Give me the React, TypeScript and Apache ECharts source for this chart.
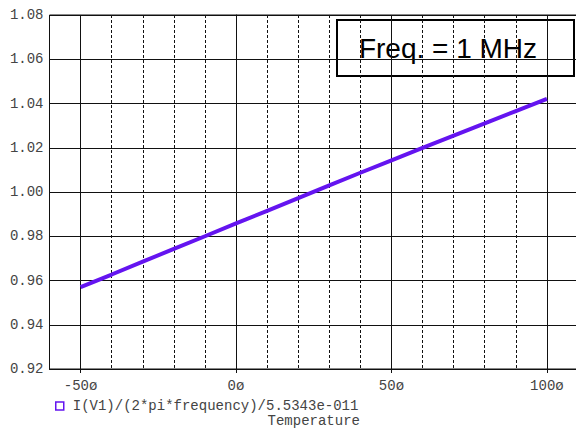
import React, { useEffect, useRef } from "react";
import * as echarts from "echarts";

const temperatures = [-50, -40, -30, -20, -10, 0, 10, 20, 30, 40, 50, 60, 70, 80, 90, 100];
const ratioValues = [0.957, 0.9627, 0.9685, 0.9743, 0.98, 0.9858, 0.9915, 0.9972, 1.003, 1.0087, 1.0143, 1.0199, 1.0255, 1.031, 1.0366, 1.0421];
const seriesName = "I(V1)/(2*pi*frequency)/5.5343e-011";
const xAxisTitle = "Temperature";
const xLabelValues = [-50, 0, 50, 100];
const annotationText = "Freq. = 1 MHz";

const MONO = "Liberation Mono";
const LINE_COLOR = "#6414F0";

export default function App() {
  const ref = useRef<HTMLDivElement>(null);
  useEffect(() => {
    if (!ref.current) return;
    const chart = echarts.init(ref.current, null, { renderer: "svg" });
    const data = temperatures.map((t, i) => [t, ratioValues[i]]);
    chart.setOption({
      animation: false,
      backgroundColor: "#fff",
      grid: {
        left: 49.5,
        right: -2,
        top: 15,
        bottom: 59,
        show: true,
        borderColor: "#111",
        borderWidth: 1,
        containLabel: false,
        outerBoundsMode: "none",
      },
      legend: {
        left: 50,
        top: 394,
        itemWidth: 8,
        itemHeight: 8,
        icon: "rect",
        itemStyle: { color: "transparent", borderColor: LINE_COLOR, borderWidth: 1.5 },
        textStyle: { fontFamily: MONO, fontSize: 14, color: "#444", padding: [0, 0, 0, 4] },
        data: [seriesName],
      },
      xAxis: [
        {
          type: "value",
          min: -60,
          max: 110,
          interval: 10,
          axisLine: { show: true, lineStyle: { color: "#111", width: 1 } },
          axisTick: { show: false },
          axisLabel: { show: false },
          splitLine: { show: true, lineStyle: { color: "#111", width: 1, type: [3, 2] } },
        },
        {
          type: "value",
          min: -60,
          max: 110,
          position: "bottom",
          axisLine: { show: false },
          axisTick: { show: true, length: 4, customValues: xLabelValues, lineStyle: { color: "#111" } },
          axisLabel: {
            show: true,
            customValues: xLabelValues,
            margin: 10,
            fontFamily: MONO,
            fontSize: 14,
            color: "#444",
            formatter: (v: number) => `${v}ø`,
          },
          splitLine: { show: true, lineStyle: { color: "#111", width: 1, type: "solid" } },
          name: xAxisTitle,
          nameLocation: "middle",
          nameGap: 45,
          nameTextStyle: { fontFamily: MONO, fontSize: 14, color: "#444" },
        },
      ],
      yAxis: {
        type: "value",
        min: 0.92,
        max: 1.08,
        interval: 0.02,
        axisLine: { show: true, lineStyle: { color: "#111", width: 1 } },
        axisTick: { show: true, length: 4, lineStyle: { color: "#111" } },
        axisLabel: {
          margin: 6,
          fontFamily: MONO,
          fontSize: 14,
          color: "#444",
          formatter: (v: number) => v.toFixed(2),
        },
        splitLine: { show: true, lineStyle: { color: "#111", width: 1 } },
      },
      series: [
        {
          name: seriesName,
          type: "line",
          xAxisIndex: 0,
          data,
          showSymbol: false,
          symbol: "none",
          lineStyle: { color: LINE_COLOR, width: 4 },
          itemStyle: { color: LINE_COLOR },
          z: 5,
        },
      ],
      graphic: [
        {
          type: "group",
          left: 336,
          top: 19,
          z: 100,
          children: [
            {
              type: "rect",
              shape: { x: 0, y: 0, width: 237, height: 56 },
              style: { fill: "#fff", stroke: "#000", lineWidth: 2 },
            },
            {
              type: "text",
              x: 111,
              y: 28,
              style: {
                text: annotationText,
                fontFamily: "Liberation Sans",
                fontSize: 28,
                fill: "#000",
                align: "center",
                verticalAlign: "middle",
              },
            },
          ],
        },
      ],
    });
    return () => chart.dispose();
  }, []);
  return <div ref={ref} style={{ width: 576, height: 428, position: "absolute", left: 0, top: 0 }} />;
}
